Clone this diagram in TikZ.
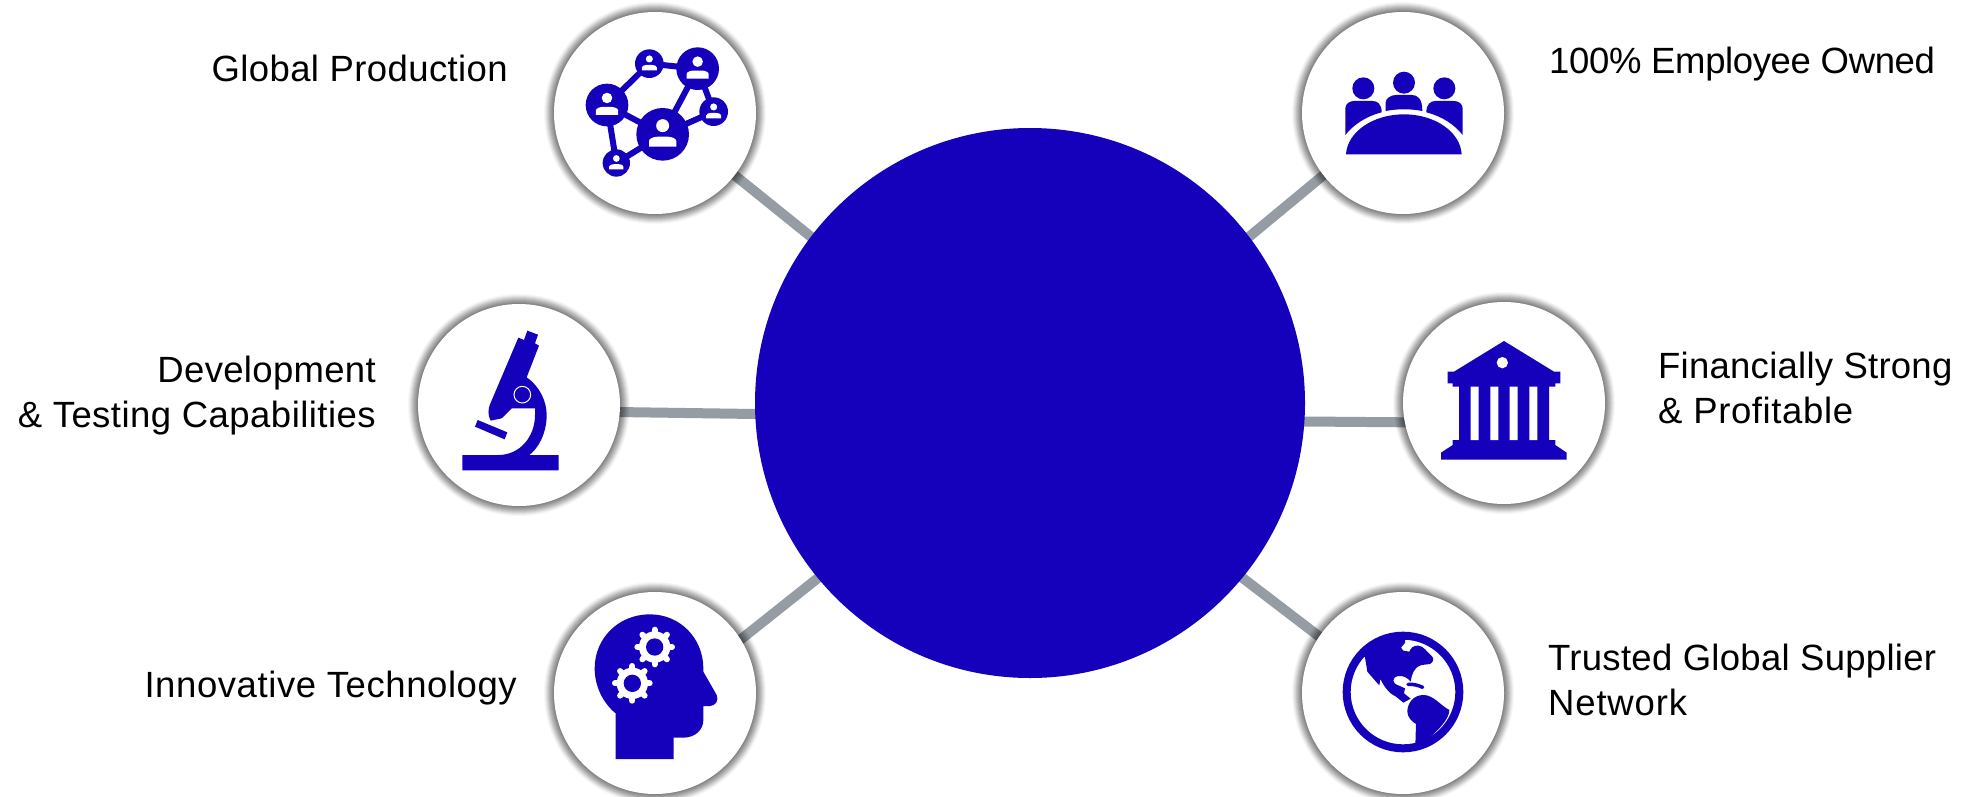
\documentclass[tikz,border=0pt]{standalone}
\usepackage{fontspec}
\setmainfont{Liberation Sans}
\usetikzlibrary{backgrounds}
\definecolor{brand}{HTML}{1500BC}
\definecolor{linkgray}{HTML}{959CA3}
\newcommand{\track}[1]{\addfontfeature{LetterSpace=#1}}
\tikzset{
  hubdisc/.style={circle,fill=brand,minimum size=550pt,inner sep=0pt},
  ringdisc/.style={circle,fill=white,minimum size=202pt,inner sep=0pt,
    preaction={draw=black,draw opacity=.03,line width=20pt},
    preaction={draw=black,draw opacity=.04,line width=18pt},
    preaction={draw=black,draw opacity=.05,line width=16pt},
    preaction={draw=black,draw opacity=.06,line width=14pt},
    preaction={draw=black,draw opacity=.07,line width=12pt},
    preaction={draw=black,draw opacity=.07,line width=10pt},
    preaction={draw=black,draw opacity=.07,line width=8pt},
    preaction={draw=black,draw opacity=.07,line width=6pt},
    preaction={draw=black,draw opacity=.07,line width=4pt},
    preaction={draw=black,draw opacity=.08,line width=2pt}},
  link/.style={draw=linkgray,line width=10pt,shorten <=-6pt,shorten >=-6pt},
  label/.style={inner sep=0pt,font=\fontsize{36.5}{45}\selectfont,text=black},
  iconzoom/.style={x=0.33333pt,y=-0.33333pt},
  web/.style={draw=brand,line width=6pt}
}
\newcommand{\personmark}[3]{%
  \begin{scope}[shift={(#1,#2)},scale=#3/79]
    \fill[white] (0,-26) circle (19.5);
    \fill[white] (-41,37) -- (-41,20) .. controls (-41,12) and (-25,7) .. (-15,7) -- (15,7) .. controls (25,7) and (41,12) .. (41,20) -- (41,37) -- cycle;
  \end{scope}}
\newcommand{\gearmark}[2]{%
  \begin{scope}[shift={(#1,#2)}]
    \fill[white] (0,0) circle (47);
    \foreach \a in {0,45,...,315}
      \draw[white,line width=6pt,line cap=round] (\a:38) -- (\a:52);
    \fill[brand] (0,0) circle (26);
  \end{scope}}
\begin{document}
\begin{tikzpicture}[x=1pt,y=-1pt]
\useasboundingbox (0,0) rectangle (1970,797);

\node[hubdisc] (hub) at (1030,403) {};
\node[ringdisc] (c1) at (655,113) {};
\node[ringdisc] (c2) at (1403,113) {};
\node[ringdisc] (c3) at (519,405) {};
\node[ringdisc] (c4) at (1504,403) {};
\node[ringdisc] (c5) at (655,693) {};
\node[ringdisc] (c6) at (1403,693) {};

\begin{pgfonlayer}{background}
  \fill[white] (0,0) rectangle (1970,797);
  \draw[link] (c1.-38.2) -- ([shift={(-220,-167)}]hub.center);
  \draw[link] (c2.218.7) -- ([shift={(220,-167)}]hub.center);
  \draw[link] (c3.-4) -- ([shift={(-275,11)}]hub.center);
  \draw[link] (c4.191.7) -- ([shift={(275,18.5)}]hub.center);
  \draw[link] (c5.32.5) -- ([shift={(-212,175)}]hub.center);
  \draw[link] (c6.146) -- ([shift={(214,176)}]hub.center);
\end{pgfonlayer}

% network icon
\begin{scope}[shift={(520,0)},iconzoom]
  \draw[web] (388,191) -- (533,206) -- (428,403) -- (261,315) -- (388,191);
  \draw[web] (533,206) -- (581,335) -- (428,403) -- (289,489) -- (261,315);
  \fill[brand] (388,191) circle (43) (533,206) circle (64) (261,315) circle (64)
     (428,403) circle (79) (581,335) circle (43) (289,489) circle (41);
  \personmark{388}{191}{43}
  \personmark{533}{206}{64}
  \personmark{261}{315}{64}
  \personmark{428}{403}{79}
  \personmark{581}{335}{43}
  \personmark{289}{489}{41}
\end{scope}

% people icon
\begin{scope}[shift={(1270,0)},iconzoom]
  \fill[brand] (280,265) circle (33) (402,248) circle (33) (523,265) circle (33);
  \fill[brand] (226,405) -- (226,325) .. controls (226,312) and (238,303) .. (252,303) -- (308,303) .. controls (322,303) and (335,312) .. (335,337) .. controls (285,350) and (250,375) .. (226,405) -- cycle;
  \fill[brand] (578,405) -- (578,325) .. controls (578,312) and (566,303) .. (552,303) -- (496,303) .. controls (482,303) and (469,312) .. (469,337) .. controls (519,350) and (554,375) .. (578,405) -- cycle;
  \fill[brand] (347,333) -- (347,308) .. controls (347,295) and (362,285) .. (378,285) -- (426,285) .. controls (442,285) and (457,295) .. (457,333) .. controls (420,326) and (384,326) .. (347,333) -- cycle;
  \fill[brand] (228,463) .. controls (232,395) and (310,343) .. (402,343) .. controls (494,343) and (571,395) .. (575,463) -- cycle;
\end{scope}

% microscope icon
\begin{scope}[shift={(400,290)},iconzoom]
  \fill[brand] (382,122) -- (414,134) -- (405,160) -- (417,167) -- (380,262)
    .. controls (420,290) and (440,335) .. (440,375)
    .. controls (440,430) and (415,475) .. (388,495)
    -- (476,495) -- (476,541) -- (187,541) -- (187,495) -- (295,495)
    .. controls (360,495) and (405,440) .. (405,375)
    -- (405,355) -- (335,355) -- (305,385) -- (272,392)
    .. controls (262,375) and (265,355) .. (270,343)
    -- (355,143) -- (372,150) -- cycle;
  \fill[brand] (233,390) -- (322,427) -- (314,448) -- (225,410) -- cycle;
  \draw[white,line width=1pt] (367,314) circle (25);
\end{scope}

% bank icon
\begin{scope}[shift={(1380,290)},iconzoom]
  \fill[brand] (372,153) -- (522,245) -- (541,245) -- (541,280) -- (526,280) -- (526,290)
    -- (507,290) -- (507,450) -- (526,450) -- (526,465) -- (560,488) -- (560,509)
    -- (183,509) -- (183,488) -- (218,465) -- (218,450) -- (237,450) -- (237,290)
    -- (218,290) -- (218,280) -- (203,280) -- (203,245) -- (222,245) -- cycle;
  \fill[white] (272,290) rectangle (296,450) (331,290) rectangle (355,450)
    (389,290) rectangle (413,450) (448,290) rectangle (472,450);
  \fill[white] (367,218) circle (17);
\end{scope}

% head icon
\begin{scope}[shift={(540,580)},iconzoom]
  \fill[brand] (227,537) -- (227,400) .. controls (190,370) and (164,320) .. (164,265)
    .. controls (164,175) and (235,103) .. (330,103)
    .. controls (420,103) and (490,175) .. (490,265)
    -- (490,275) -- (530,345) .. controls (538,362) and (525,378) .. (510,378)
    -- (490,378) -- (490,420) .. controls (490,450) and (465,473) .. (430,473)
    -- (401,473) -- (401,537) -- cycle;
  \gearmark{344}{201}
  \gearmark{277}{310}
\end{scope}

% globe icon
\begin{scope}[shift={(1290,580)},iconzoom]
  \draw[brand,line width=8pt] (339,336) circle (169);
  \fill[brand] (345,170) -- (280,170) -- (215,225) -- (225,232) -- (232,275) -- (258,305) -- (268,316) -- (271,297)
     .. controls (285,325) and (300,342) .. (318,350) -- (340,368) -- (362,356) -- (342,340) -- (345,325) -- (325,316)
     .. controls (305,310) and (305,292) .. (325,288) .. controls (340,286) and (355,295) .. (362,305)
     .. controls (365,285) and (370,262) .. (395,255) -- (420,252) .. controls (432,245) and (432,235) .. (425,228)
     .. controls (410,215) and (400,197) .. (385,197) .. controls (370,195) and (362,205) .. (358,215) -- (340,212) -- (333,203) -- (345,188) -- cycle;
  \fill[brand] (352,395) .. controls (352,370) and (370,345) .. (400,345) .. controls (430,345) and (450,375) .. (478,390)
     .. controls (478,415) and (450,445) .. (420,472) -- (430,490) -- (376,495) -- (378,432) .. controls (365,425) and (352,410) .. (352,395) -- cycle;
  \draw[brand,line width=3.5pt,line cap=round] (354,313) .. controls (370,312) and (385,316) .. (398,322);
\end{scope}

% labels
\node[label,anchor=east] (t1) at (508,68) {\track{1.1}Global Production};
\node[label,anchor=west] (t2) at (1549,64) {\track{-1}100\% Employee Owned};
\node[label,anchor=east,align=right] (t3) at (376,396) {\track{.9}Development\\\track{1.3}\& Testing Capabilities};
\node[label,anchor=west,align=left] (t4) at (1658,388) {\track{.7}Financially Strong\\\track{1.7}\& Profitable};
\node[label,anchor=east] (t5) at (517,688) {\track{1.6}Innovative Technology};
\node[label,anchor=west,align=left] (t6) at (1548,680) {\track{.8}Trusted Global Supplier\\\track{2.3}Network};
\end{tikzpicture}
\end{document}
